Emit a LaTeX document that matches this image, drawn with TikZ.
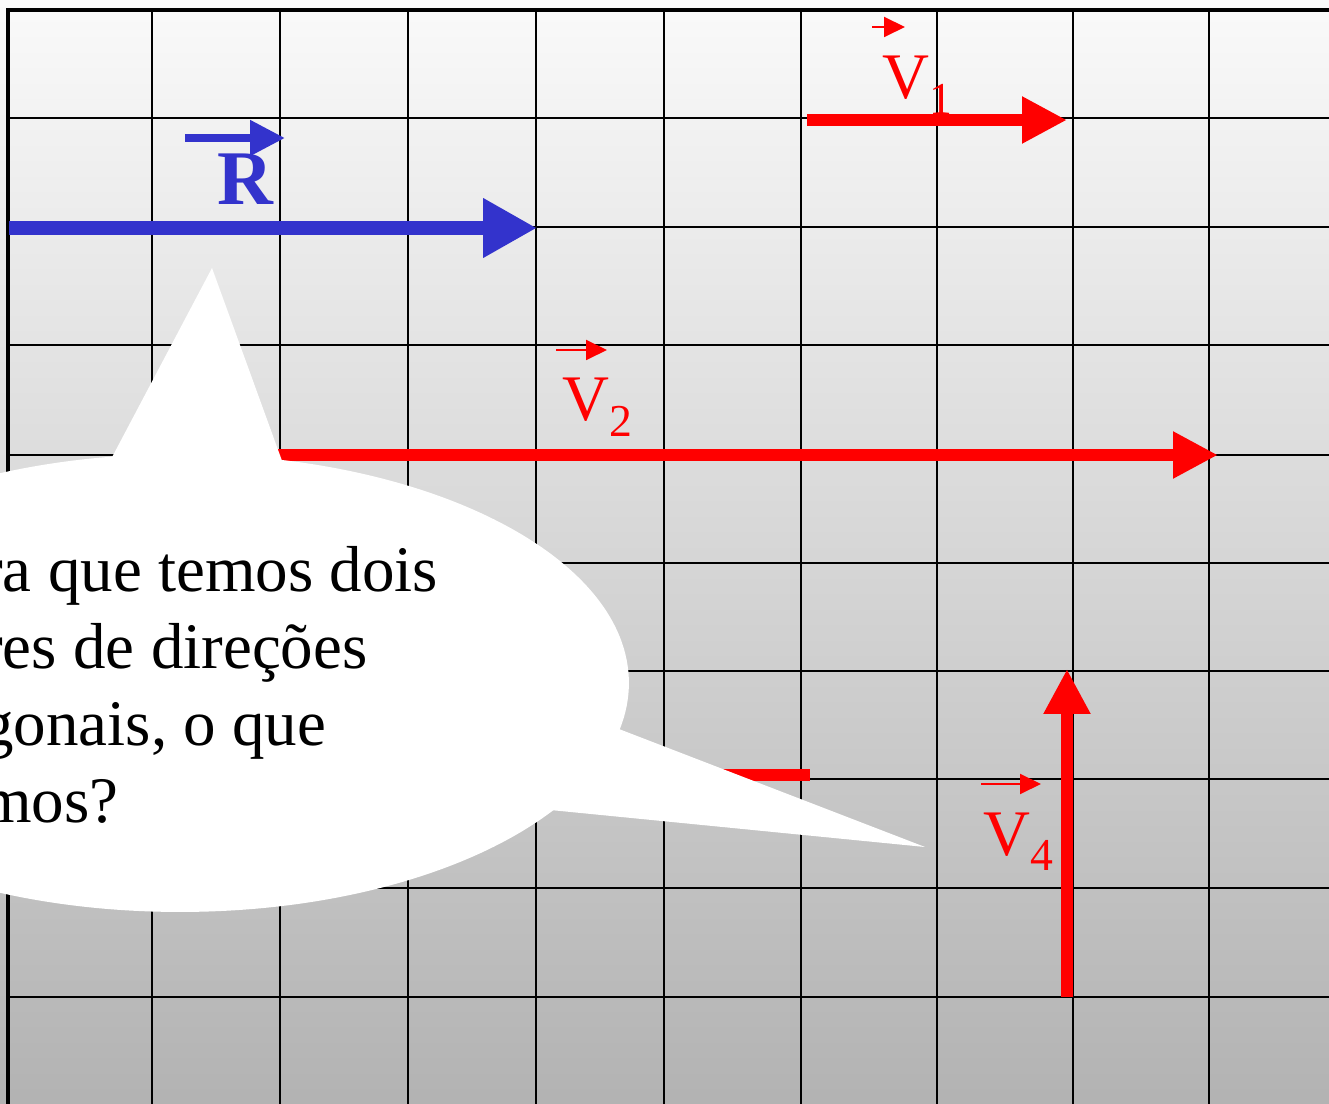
\documentclass[tikz,border=0pt]{standalone}
\usepackage{fontspec}
\setmainfont{Liberation Serif}
\usepackage{xcolor}
\usetikzlibrary{arrows.meta, shapes.geometric}

\definecolor{blueR}{RGB}{51,51,204}
\newcommand{\veclbl}[1]{V\raisebox{-0.32cm}{\fontsize{26}{26}\selectfont #1}}

\begin{document}
\begin{tikzpicture}[
    x=0.02cm, y=-0.02cm,
    gridline/.style={line width=1.4pt, black},
    frame/.style={line width=2.8pt, black},
    vecred/.style={draw=red, line width=6.8pt, -{Triangle[length=0.9cm, width=0.88cm]}},
    vecblue/.style={draw=blueR, line width=8.5pt, -{Triangle[length=1.08cm, width=1.12cm]}},
    overred/.style={draw=red, line width=1.1pt, -{Triangle[length=0.42cm, width=0.4cm]}},
    overblue/.style={draw=blueR, line width=4.5pt, -{Triangle[length=0.7cm, width=0.68cm]}},
    lbl/.style={text=red, font=\fontsize{37}{37}\selectfont, inner sep=0pt, anchor=base west},
    bubble/.style={ellipse, fill=white, minimum width=17.96cm, minimum height=9.16cm, inner sep=0pt},
]
\useasboundingbox (0,0) rectangle (1329,1104);
\clip (0,0) rectangle (1329,1104);

% background and grid
\shade[top color=black!2, bottom color=black!30] (0,0) rectangle (1329,1104);
\foreach \gx in {152,280,408,536,664,801,937,1073,1209}
    \draw[gridline] (\gx,10) -- (\gx,1104);
\foreach \gy in {118,227,345,455,563,671,779,888,997}
    \draw[gridline] (8,\gy) -- (1329,\gy);
\draw[frame] (8,1104) -- (8,10) -- (1329,10);

% resultant
\coordinate (Ra) at (9,228);
\coordinate (Rb) at (537,228);
\draw[vecblue] (Ra) -- (Rb);
\node[text=blueR, font=\fontsize{44}{44}\selectfont\bfseries, inner sep=0pt, anchor=base west] (Rlbl) at (217,205) {R};
\coordinate (Rova) at (185,138);
\coordinate (Rovb) at (285,138);
\draw[overblue] (Rova) -- (Rovb);

% V1
\coordinate (V1a) at (807,120);
\coordinate (V1b) at (1067,120);
\draw[vecred] (V1a) -- (V1b);
\node[lbl] (V1lbl) at (882,99) {\veclbl{1}};
\coordinate (V1ova) at (872,27);
\coordinate (V1ovb) at (905,27);
\draw[overred] (V1ova) -- (V1ovb);

% V2
\coordinate (V2a) at (152,455);
\coordinate (V2b) at (1218,455);
\draw[vecred] (V2a) -- (V2b);
\node[lbl] (V2lbl) at (562,421) {\veclbl{2}};
\coordinate (V2ova) at (556,350);
\coordinate (V2ovb) at (607,350);
\draw[overred] (V2ova) -- (V2ovb);

% V3 (mostly hidden)
\coordinate (V3a) at (600,775);
\coordinate (V3b) at (810,775);
\draw[red, line width=6.8pt] (V3a) -- (V3b);

% V4
\coordinate (V4a) at (1067,997);
\coordinate (V4b) at (1067,669);
\draw[vecred] (V4a) -- (V4b);
\node[lbl] (V4lbl) at (983,855) {\veclbl{4}};
\coordinate (V4ova) at (981,784);
\coordinate (V4ovb) at (1041,784);
\draw[overred] (V4ova) -- (V4ovb);

% speech bubble
\node[bubble] (bubble) at (180,683) {};
\fill[white] (100,480) -- (212,268) -- (289,480) -- cycle;
\fill[white] (580,714) -- (925,847) -- (520,807) -- cycle;
\node[anchor=base west, align=left, inner sep=0pt,
      font=\fontsize{37}{43.7}\selectfont] (question) at (-19,822)
    {ra que temos dois\\res de direções\\gonais, o que\\mos?};
\end{tikzpicture}
\end{document}
